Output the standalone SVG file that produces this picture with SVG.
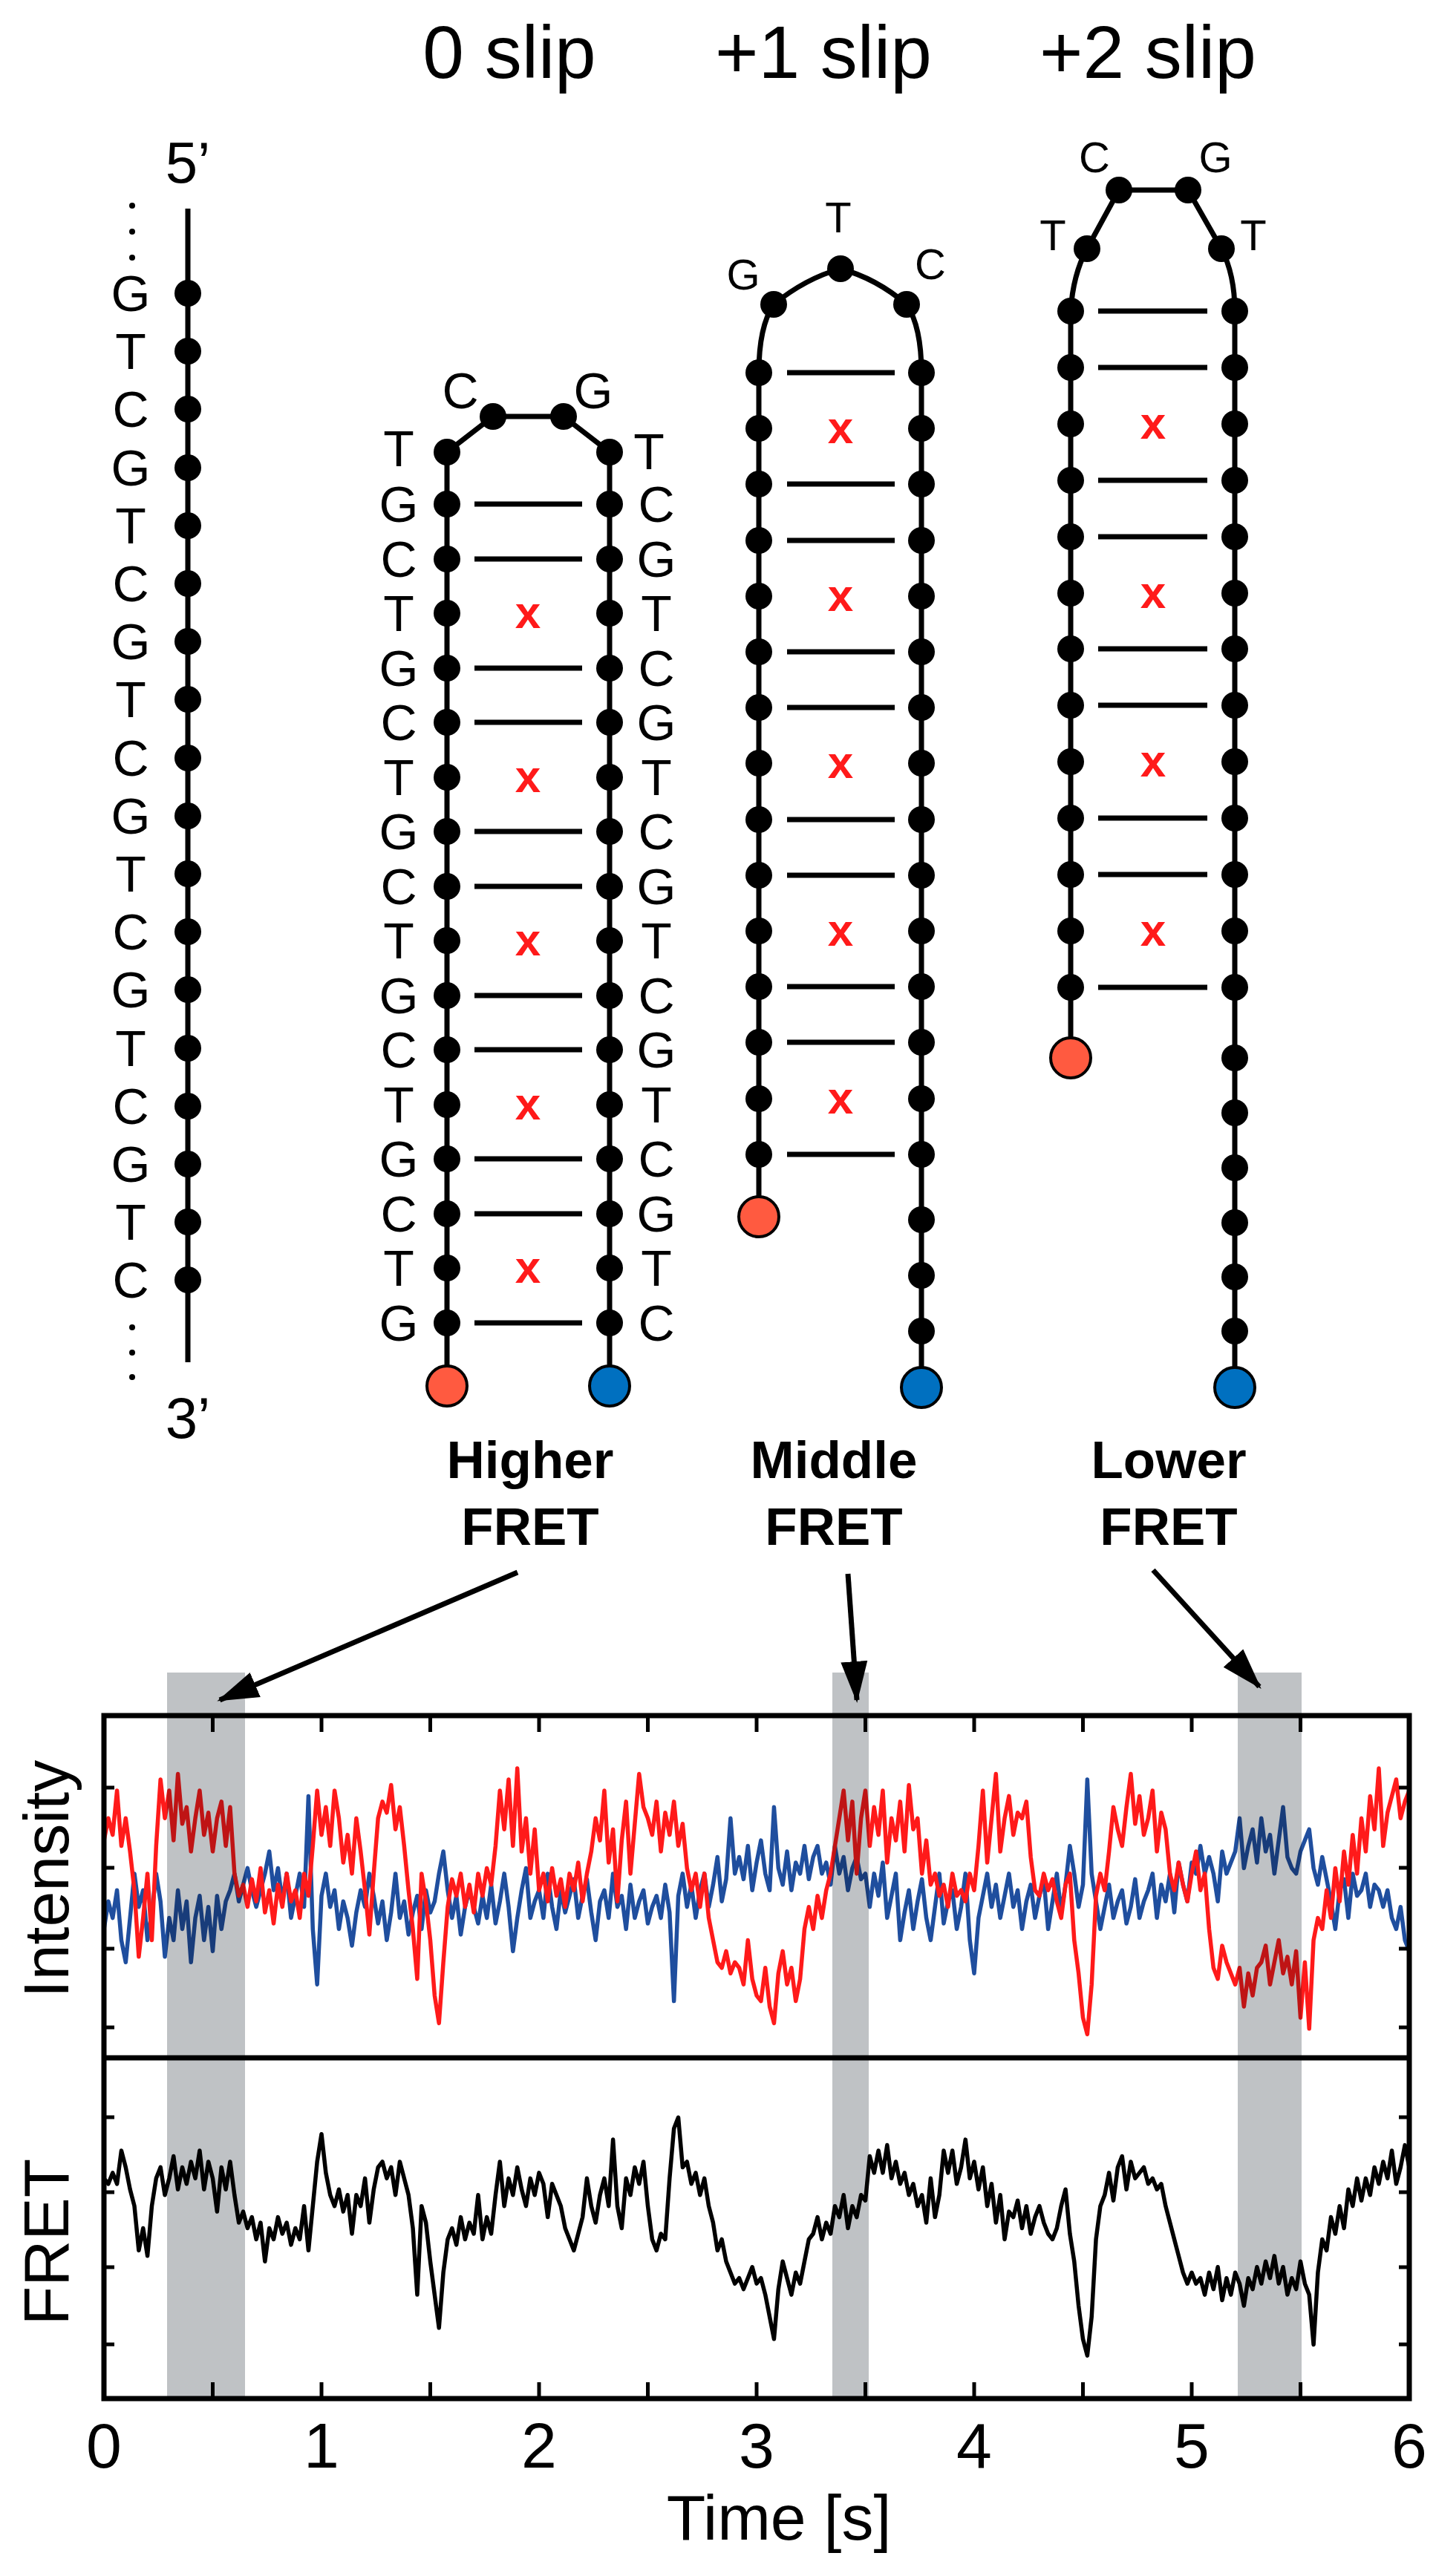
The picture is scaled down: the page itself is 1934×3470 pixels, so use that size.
<svg xmlns="http://www.w3.org/2000/svg" xmlns:xlink="http://www.w3.org/1999/xlink" width="1934" height="3470" viewBox="0 0 1934 3470">
<style>
text{font-family:"Liberation Sans",Arial,sans-serif;fill:#000}
.nt{font-size:68px;text-anchor:middle}
.hd{font-size:100px;text-anchor:middle}
.lb{font-size:71px;font-weight:bold;text-anchor:middle}
.ax{font-size:86px;text-anchor:middle}
.xx{font-size:62px;font-weight:bold;fill:#ff1a1a;text-anchor:middle}
.strand{fill:none;stroke:#000;stroke-width:7}
.pair{stroke:#000;stroke-width:7}
.bead{fill:#000}
.red{fill:#ff5a40;stroke:#000;stroke-width:4}
.blue{fill:#0070c0;stroke:#000;stroke-width:4}
.tr{fill:none;stroke-width:5.5;vector-effect:non-scaling-stroke;stroke-linejoin:round}
.box{fill:none;stroke:#000;stroke-width:7}
.tick{stroke:#000;stroke-width:5}
.band{fill:#bfc2c5;mix-blend-mode:multiply}
.arrow{stroke:#000;stroke-width:7;fill:none}
</style>
<defs>
<circle id="b" r="18" class="bead"/>
<marker id="ah" viewBox="0 0 14 10" refX="13" refY="5" markerWidth="8" markerHeight="6" markerUnits="strokeWidth" orient="auto"><path d="M0,0.5 L14,5 L0,9.5 Z" fill="#000"/></marker>
</defs>

<g id="titles">
<text class="hd" x="686" y="105">0 slip</text>
<text class="hd" x="1109" y="105">+1 slip</text>
<text class="hd" x="1546" y="105">+2 slip</text>
</g>

<g id="strand-linear">
<line class="strand" x1="253" y1="281" x2="253" y2="1835"/>
<text class="nt" x="253" y="246" style="font-size:78px">5’</text>
<text class="nt" x="253" y="1937" style="font-size:78px">3’</text>
<g fill="#000"><circle cx="178" cy="277" r="4"/><circle cx="178" cy="312" r="4"/><circle cx="178" cy="347" r="4"/><circle cx="178" cy="1788" r="4"/><circle cx="178" cy="1822" r="4"/><circle cx="178" cy="1855" r="4"/></g>
<g>
<use href="#b" x="253" y="395"/><use href="#b" x="253" y="473"/><use href="#b" x="253" y="551"/><use href="#b" x="253" y="630"/><use href="#b" x="253" y="708"/><use href="#b" x="253" y="786"/><use href="#b" x="253" y="864"/><use href="#b" x="253" y="942"/><use href="#b" x="253" y="1021"/><use href="#b" x="253" y="1099"/><use href="#b" x="253" y="1177"/><use href="#b" x="253" y="1255"/><use href="#b" x="253" y="1333"/><use href="#b" x="253" y="1412"/><use href="#b" x="253" y="1490"/><use href="#b" x="253" y="1568"/><use href="#b" x="253" y="1646"/><use href="#b" x="253" y="1724"/>
</g>
<g>
<text class="nt" x="176" y="419">G</text><text class="nt" x="176" y="497">T</text><text class="nt" x="176" y="575">C</text><text class="nt" x="176" y="654">G</text><text class="nt" x="176" y="732">T</text><text class="nt" x="176" y="810">C</text><text class="nt" x="176" y="888">G</text><text class="nt" x="176" y="966">T</text><text class="nt" x="176" y="1045">C</text><text class="nt" x="176" y="1123">G</text><text class="nt" x="176" y="1201">T</text><text class="nt" x="176" y="1279">C</text><text class="nt" x="176" y="1357">G</text><text class="nt" x="176" y="1436">T</text><text class="nt" x="176" y="1514">C</text><text class="nt" x="176" y="1592">G</text><text class="nt" x="176" y="1670">T</text><text class="nt" x="176" y="1748">C</text>
</g>
</g>

<g id="hairpin-0slip">
<path class="strand" d="M602,1867 L602,609 L664,561 L759,561 L821,609 L821,1867"/>
<g class="pair">
<line x1="639" y1="679" x2="784" y2="679"/><line x1="639" y1="753" x2="784" y2="753"/><line x1="639" y1="900" x2="784" y2="900"/><line x1="639" y1="973" x2="784" y2="973"/><line x1="639" y1="1120" x2="784" y2="1120"/><line x1="639" y1="1194" x2="784" y2="1194"/><line x1="639" y1="1341" x2="784" y2="1341"/><line x1="639" y1="1414" x2="784" y2="1414"/><line x1="639" y1="1561" x2="784" y2="1561"/><line x1="639" y1="1635" x2="784" y2="1635"/><line x1="639" y1="1782" x2="784" y2="1782"/>
</g>
<text class="xx" x="711" y="846">x</text><text class="xx" x="711" y="1067">x</text><text class="xx" x="711" y="1287">x</text><text class="xx" x="711" y="1508">x</text><text class="xx" x="711" y="1728">x</text>
<use href="#b" x="602" y="609"/><use href="#b" x="664" y="561"/><use href="#b" x="759" y="561"/><use href="#b" x="821" y="609"/>
<use href="#b" x="602" y="679"/><use href="#b" x="602" y="753"/><use href="#b" x="602" y="826"/><use href="#b" x="602" y="900"/><use href="#b" x="602" y="973"/><use href="#b" x="602" y="1047"/><use href="#b" x="602" y="1120"/><use href="#b" x="602" y="1194"/><use href="#b" x="602" y="1267"/><use href="#b" x="602" y="1341"/><use href="#b" x="602" y="1414"/><use href="#b" x="602" y="1488"/><use href="#b" x="602" y="1561"/><use href="#b" x="602" y="1635"/><use href="#b" x="602" y="1708"/><use href="#b" x="602" y="1782"/>
<use href="#b" x="821" y="679"/><use href="#b" x="821" y="753"/><use href="#b" x="821" y="826"/><use href="#b" x="821" y="900"/><use href="#b" x="821" y="973"/><use href="#b" x="821" y="1047"/><use href="#b" x="821" y="1120"/><use href="#b" x="821" y="1194"/><use href="#b" x="821" y="1267"/><use href="#b" x="821" y="1341"/><use href="#b" x="821" y="1414"/><use href="#b" x="821" y="1488"/><use href="#b" x="821" y="1561"/><use href="#b" x="821" y="1635"/><use href="#b" x="821" y="1708"/><use href="#b" x="821" y="1782"/>
<circle class="red" cx="602" cy="1867" r="27"/><circle class="blue" cx="821" cy="1867" r="27"/>
<text class="nt" x="537" y="628">T</text><text class="nt" x="620" y="550">C</text><text class="nt" x="799" y="550">G</text><text class="nt" x="874" y="632">T</text>
<text class="nt" x="537" y="703">G</text><text class="nt" x="537" y="777">C</text><text class="nt" x="537" y="850">T</text><text class="nt" x="537" y="924">G</text><text class="nt" x="537" y="997">C</text><text class="nt" x="537" y="1071">T</text><text class="nt" x="537" y="1144">G</text><text class="nt" x="537" y="1218">C</text><text class="nt" x="537" y="1291">T</text><text class="nt" x="537" y="1365">G</text><text class="nt" x="537" y="1438">C</text><text class="nt" x="537" y="1512">T</text><text class="nt" x="537" y="1585">G</text><text class="nt" x="537" y="1659">C</text><text class="nt" x="537" y="1732">T</text><text class="nt" x="537" y="1806">G</text>
<text class="nt" x="884" y="703">C</text><text class="nt" x="884" y="777">G</text><text class="nt" x="884" y="850">T</text><text class="nt" x="884" y="924">C</text><text class="nt" x="884" y="997">G</text><text class="nt" x="884" y="1071">T</text><text class="nt" x="884" y="1144">C</text><text class="nt" x="884" y="1218">G</text><text class="nt" x="884" y="1291">T</text><text class="nt" x="884" y="1365">C</text><text class="nt" x="884" y="1438">G</text><text class="nt" x="884" y="1512">T</text><text class="nt" x="884" y="1585">C</text><text class="nt" x="884" y="1659">G</text><text class="nt" x="884" y="1732">T</text><text class="nt" x="884" y="1806">C</text>
<text class="lb" x="714" y="1991">Higher</text><text class="lb" x="714" y="2081">FRET</text>
</g>

<g id="hairpin-1slip">
<path class="strand" d="M1022,1639 L1022,502 Q1022,440 1042,410 Q1085,375 1132,362 Q1180,375 1221,410 Q1241,440 1241,502 L1241,1869"/>
<g class="pair">
<line x1="1060" y1="502" x2="1205" y2="502"/><line x1="1060" y1="652" x2="1205" y2="652"/><line x1="1060" y1="728" x2="1205" y2="728"/><line x1="1060" y1="878" x2="1205" y2="878"/><line x1="1060" y1="953" x2="1205" y2="953"/><line x1="1060" y1="1104" x2="1205" y2="1104"/><line x1="1060" y1="1179" x2="1205" y2="1179"/><line x1="1060" y1="1329" x2="1205" y2="1329"/><line x1="1060" y1="1404" x2="1205" y2="1404"/><line x1="1060" y1="1555" x2="1205" y2="1555"/>
</g>
<text class="xx" x="1132" y="597">x</text><text class="xx" x="1132" y="823">x</text><text class="xx" x="1132" y="1048">x</text><text class="xx" x="1132" y="1274">x</text><text class="xx" x="1132" y="1500">x</text>
<use href="#b" x="1042" y="410"/><use href="#b" x="1132" y="362"/><use href="#b" x="1221" y="410"/>
<use href="#b" x="1022" y="502"/><use href="#b" x="1022" y="577"/><use href="#b" x="1022" y="652"/><use href="#b" x="1022" y="728"/><use href="#b" x="1022" y="803"/><use href="#b" x="1022" y="878"/><use href="#b" x="1022" y="953"/><use href="#b" x="1022" y="1028"/><use href="#b" x="1022" y="1104"/><use href="#b" x="1022" y="1179"/><use href="#b" x="1022" y="1254"/><use href="#b" x="1022" y="1329"/><use href="#b" x="1022" y="1404"/><use href="#b" x="1022" y="1480"/><use href="#b" x="1022" y="1555"/>
<use href="#b" x="1241" y="502"/><use href="#b" x="1241" y="577"/><use href="#b" x="1241" y="652"/><use href="#b" x="1241" y="728"/><use href="#b" x="1241" y="803"/><use href="#b" x="1241" y="878"/><use href="#b" x="1241" y="953"/><use href="#b" x="1241" y="1028"/><use href="#b" x="1241" y="1104"/><use href="#b" x="1241" y="1179"/><use href="#b" x="1241" y="1254"/><use href="#b" x="1241" y="1329"/><use href="#b" x="1241" y="1404"/><use href="#b" x="1241" y="1480"/><use href="#b" x="1241" y="1555"/><use href="#b" x="1241" y="1643"/><use href="#b" x="1241" y="1718"/><use href="#b" x="1241" y="1793"/>
<circle class="red" cx="1022" cy="1639" r="27"/><circle class="blue" cx="1241" cy="1869" r="27"/>
<text class="nt" x="1001" y="390" style="font-size:58px">G</text><text class="nt" x="1129" y="313" style="font-size:58px">T</text><text class="nt" x="1253" y="376" style="font-size:58px">C</text>
<text class="lb" x="1123" y="1991">Middle</text><text class="lb" x="1123" y="2081">FRET</text>
</g>

<g id="hairpin-2slip">
<path class="strand" d="M1442,1425 L1442,419 Q1445,370 1464,335 L1507,256 L1600,256 L1645,335 Q1663,370 1663,419 L1663,1869"/>
<g class="pair">
<line x1="1479" y1="419" x2="1626" y2="419"/><line x1="1479" y1="495" x2="1626" y2="495"/><line x1="1479" y1="647" x2="1626" y2="647"/><line x1="1479" y1="723" x2="1626" y2="723"/><line x1="1479" y1="874" x2="1626" y2="874"/><line x1="1479" y1="950" x2="1626" y2="950"/><line x1="1479" y1="1102" x2="1626" y2="1102"/><line x1="1479" y1="1178" x2="1626" y2="1178"/><line x1="1479" y1="1330" x2="1626" y2="1330"/>
</g>
<text class="xx" x="1553" y="591">x</text><text class="xx" x="1553" y="819">x</text><text class="xx" x="1553" y="1046">x</text><text class="xx" x="1553" y="1274">x</text>
<use href="#b" x="1464" y="335"/><use href="#b" x="1507" y="256"/><use href="#b" x="1600" y="256"/><use href="#b" x="1645" y="335"/>
<use href="#b" x="1442" y="419"/><use href="#b" x="1442" y="495"/><use href="#b" x="1442" y="571"/><use href="#b" x="1442" y="647"/><use href="#b" x="1442" y="723"/><use href="#b" x="1442" y="799"/><use href="#b" x="1442" y="874"/><use href="#b" x="1442" y="950"/><use href="#b" x="1442" y="1026"/><use href="#b" x="1442" y="1102"/><use href="#b" x="1442" y="1178"/><use href="#b" x="1442" y="1254"/><use href="#b" x="1442" y="1330"/>
<use href="#b" x="1663" y="419"/><use href="#b" x="1663" y="495"/><use href="#b" x="1663" y="571"/><use href="#b" x="1663" y="647"/><use href="#b" x="1663" y="723"/><use href="#b" x="1663" y="799"/><use href="#b" x="1663" y="874"/><use href="#b" x="1663" y="950"/><use href="#b" x="1663" y="1026"/><use href="#b" x="1663" y="1102"/><use href="#b" x="1663" y="1178"/><use href="#b" x="1663" y="1254"/><use href="#b" x="1663" y="1330"/><use href="#b" x="1663" y="1425"/><use href="#b" x="1663" y="1499"/><use href="#b" x="1663" y="1573"/><use href="#b" x="1663" y="1647"/><use href="#b" x="1663" y="1720"/><use href="#b" x="1663" y="1793"/>
<circle class="red" cx="1442" cy="1425" r="27"/><circle class="blue" cx="1663" cy="1869" r="27"/>
<text class="nt" x="1418" y="337" style="font-size:58px">T</text><text class="nt" x="1474" y="232" style="font-size:58px">C</text><text class="nt" x="1637" y="232" style="font-size:58px">G</text><text class="nt" x="1688" y="337" style="font-size:58px">T</text>
<text class="lb" x="1574" y="1991">Lower</text><text class="lb" x="1574" y="2081">FRET</text>
</g>

<g id="plot" style="isolation:isolate">
<rect x="140" y="2311" width="1758" height="920" fill="#fff"/>
<g transform="translate(140,2300) scale(2.93,0.7463)">
<polyline class="tr" stroke="#1f4e9e" points="0,400 2,350 4,380 6,330 8,420 10,460 12,380 14,300 16,360 18,330 20,420 22,370 24,300 26,350 28,450 30,380 32,420 34,330 36,400 38,350 40,460 42,380 44,340 46,420 48,360 50,440 52,340 54,400 56,350 58,330 60,300 62,350 64,320 66,290 68,330 70,360 72,330 74,300 76,260 78,330 80,290 82,350 84,300 86,380 88,340 90,300 92,360 94,160 96,400 98,500 100,340 102,300 104,360 106,330 108,400 110,350 112,380 114,430 116,370 118,330 120,360 122,300 124,340 126,390 128,350 130,420 132,370 134,300 136,380 138,350 140,410 142,370 144,340 146,400 148,330 150,370 152,350 154,300 156,260 158,330 160,380 162,340 164,410 166,360 168,330 170,360 172,390 174,340 176,380 178,320 180,390 182,350 184,300 186,360 188,440 190,380 192,330 194,290 196,380 198,350 200,330 202,380 204,300 206,360 208,400 210,330 212,370 214,340 216,310 218,380 220,340 222,310 224,370 226,420 228,350 230,330 232,380 234,300 236,360 238,340 240,400 242,320 244,380 246,350 248,330 250,390 252,360 254,340 256,380 258,320 260,370 262,530 264,340 266,300 268,360 270,320 272,380 274,330 276,300 278,360 280,320 282,270 284,350 286,310 288,200 290,300 292,270 294,310 296,250 298,330 300,280 302,240 304,300 306,330 308,180 310,290 312,320 314,260 316,330 318,280 320,300 322,250 324,310 326,270 328,250 330,300 332,280 334,320 336,250 338,300 340,270 342,330 344,290 346,270 348,310 350,300 352,360 354,300 356,340 358,280 360,380 362,340 364,300 366,420 368,370 370,330 372,400 374,350 376,310 378,380 380,420 382,360 384,300 386,390 388,350 390,330 392,400 394,360 396,300 398,420 400,480 402,380 404,340 406,300 408,360 410,320 412,380 414,340 416,300 418,360 420,330 422,400 424,350 426,320 428,380 430,340 432,310 434,400 436,350 438,300 440,370 442,320 444,250 446,300 448,360 450,320 452,130 454,300 456,350 458,400 460,360 462,320 464,380 466,350 468,330 470,390 472,360 474,310 476,380 478,350 480,330 482,300 484,380 486,320 488,350 490,300 492,370 494,280 496,320 498,350 500,280 502,300 504,250 506,300 508,270 510,300 512,350 514,260 516,300 518,280 520,260 522,200 524,290 526,250 528,220 530,280 532,200 534,260 536,230 538,300 540,240 542,180 544,270 546,290 548,300 550,260 552,240 554,220 556,290 558,320 560,270 562,310 564,350 566,400 568,330 570,310 572,380 574,300 576,340 578,330 580,300 582,360 584,320 586,330 588,360 590,330 592,380 594,400 596,360 598,420 600,440"/>
<polyline class="tr" stroke="#ff1a1a" points="0,240 2,200 4,230 6,150 8,250 10,200 12,260 14,330 16,450 18,380 20,300 22,420 24,250 26,130 28,200 30,150 32,240 34,120 36,210 38,180 40,260 42,200 44,150 46,230 48,190 50,260 52,200 54,170 56,250 58,180 60,300 62,340 64,320 66,360 68,310 70,350 72,290 74,370 76,330 78,390 80,320 82,360 84,300 86,350 88,330 90,380 92,300 94,340 96,250 98,150 100,230 102,180 104,250 106,150 108,200 110,280 112,230 114,300 116,200 118,260 120,330 122,410 124,300 126,200 128,170 130,190 132,140 134,220 136,180 138,250 140,330 142,400 144,490 146,300 148,350 150,420 152,520 154,570 156,460 158,360 160,310 162,340 164,300 166,360 168,320 170,370 172,300 174,340 176,290 178,320 180,250 182,150 184,220 186,130 188,250 190,110 192,260 194,200 196,300 198,220 200,330 202,300 204,350 206,290 208,340 210,310 212,360 214,300 216,330 218,280 220,350 222,300 224,260 226,200 228,240 230,150 232,280 234,220 236,350 238,240 240,170 242,300 244,210 246,120 248,180 250,200 252,230 254,170 256,260 258,190 260,230 262,170 264,250 266,210 268,290 270,330 272,300 274,360 276,300 278,380 280,420 282,460 284,470 286,440 288,480 290,460 292,470 294,500 296,420 298,490 300,520 302,530 304,470 306,540 308,570 310,480 312,440 314,500 316,470 318,530 320,490 322,400 324,360 326,400 328,340 330,380 332,330 334,300 336,250 338,200 340,150 342,240 344,170 346,300 348,200 350,150 352,250 354,180 356,230 358,150 360,280 362,200 364,240 366,170 368,260 370,140 372,220 374,200 376,300 378,240 380,320 382,300 384,340 386,320 388,360 390,300 392,340 394,330 396,350 398,300 400,330 402,250 404,150 406,280 408,200 410,120 412,260 414,200 416,160 418,230 420,190 422,200 424,170 426,270 428,330 430,340 432,300 434,330 436,310 438,350 440,380 442,320 444,300 446,420 448,480 450,560 452,590 454,500 456,340 458,300 460,330 462,260 464,180 466,220 468,250 470,180 472,120 474,210 476,160 478,230 480,200 482,150 484,260 486,190 488,220 490,300 492,330 494,280 496,320 498,350 500,300 502,260 504,330 506,300 508,400 510,470 512,490 514,430 516,460 518,480 520,500 522,470 524,540 526,480 528,520 530,470 532,460 534,430 536,500 538,460 540,420 542,480 544,450 546,500 548,440 550,560 552,460 554,580 556,420 558,380 560,400 562,330 564,380 566,290 568,350 570,260 572,320 574,230 576,300 578,200 580,260 582,160 584,220 586,110 588,250 590,190 592,160 594,130 596,200 598,170 600,150"/>
<polyline class="tr" stroke="#000" points="0,850 2,860 4,840 6,860 8,800 10,830 12,870 14,900 16,980 18,940 20,990 22,900 24,850 26,830 28,880 30,850 32,810 34,870 36,830 38,860 40,820 42,850 44,800 46,870 48,820 50,850 52,910 54,830 56,870 58,820 60,880 62,930 64,910 66,940 68,920 70,960 72,930 74,1000 76,940 78,960 80,920 82,950 84,930 86,970 88,940 90,960 92,900 94,980 96,900 98,820 100,770 102,840 104,880 106,900 108,870 110,910 112,880 114,950 116,880 118,900 120,850 122,930 124,870 126,830 128,820 130,850 132,830 134,880 136,820 138,850 140,880 142,940 144,1060 146,900 148,930 150,1000 152,1060 154,1120 156,1020 158,960 160,940 162,970 164,920 166,960 168,930 170,950 172,880 174,960 176,920 178,950 180,880 182,820 184,900 186,850 188,880 190,830 192,870 194,900 196,850 198,880 200,840 202,860 204,920 206,860 208,880 210,900 212,940 214,960 216,980 218,950 220,920 222,850 224,900 226,930 228,880 230,850 232,900 234,780 236,900 238,940 240,850 242,880 244,830 246,860 248,820 250,900 252,960 254,980 256,950 258,960 260,850 262,760 264,740 266,830 268,820 270,860 272,840 274,880 276,850 278,900 280,930 282,980 284,960 286,1000 288,1020 290,1040 292,1030 294,1050 296,1030 298,1010 300,1040 302,1030 304,1060 306,1100 308,1140 310,1050 312,1000 314,1030 316,1060 318,1020 320,1040 322,1000 324,960 326,950 328,920 330,960 332,930 334,950 336,900 338,920 340,880 342,940 344,900 346,920 348,880 350,890 352,810 354,840 356,800 358,840 360,790 362,850 364,820 366,860 368,840 370,880 372,860 374,900 376,880 378,930 380,850 382,920 384,880 386,800 388,840 390,800 392,860 394,830 396,780 398,850 400,820 402,870 404,830 406,900 408,860 410,930 412,880 414,960 416,910 418,920 420,890 422,940 424,900 426,950 428,920 430,900 432,930 434,950 436,960 438,940 440,900 442,870 444,950 446,1000 448,1080 450,1140 452,1170 454,1100 456,960 458,900 460,880 462,840 464,890 466,830 468,810 470,870 472,820 474,850 476,840 478,830 480,860 482,850 484,870 486,860 488,900 490,930 492,960 494,990 496,1020 498,1040 500,1020 502,1040 504,1030 506,1060 508,1020 510,1050 512,1010 514,1070 516,1030 518,1060 520,1020 522,1040 524,1080 526,1030 528,1050 530,1010 532,1040 534,1000 536,1030 538,990 540,1040 542,1010 544,1060 546,1030 548,1050 550,1000 552,1040 554,1060 556,1150 558,1020 560,960 562,980 564,920 566,950 568,900 570,940 572,870 574,900 576,850 578,890 580,850 582,880 584,830 586,860 588,820 590,850 592,800 594,860 596,830 598,790 600,830"/>
</g>
<rect class="band" x="225" y="2253" width="105" height="978"/>
<rect class="band" x="1121" y="2253" width="49" height="978"/>
<rect class="band" x="1667" y="2253" width="86" height="978"/>
<rect class="box" x="140" y="2311" width="1758" height="920"/>
<line class="box" x1="140" y1="2772" x2="1898" y2="2772"/>
<path class="tick" d="M286.5,2311v22 M433,2311v22 M579.5,2311v22 M726,2311v22 M872.5,2311v22 M1019,2311v22 M1165.5,2311v22 M1312,2311v22 M1458.5,2311v22 M1605,2311v22 M1751.5,2311v22
M286.5,3231v-22 M433,3231v-22 M579.5,3231v-22 M726,3231v-22 M872.5,3231v-22 M1019,3231v-22 M1165.5,3231v-22 M1312,3231v-22 M1458.5,3231v-22 M1605,3231v-22 M1751.5,3231v-22
M140,2408h14 M140,2516h14 M140,2625h14 M140,2731h14 M1898,2408h-14 M1898,2516h-14 M1898,2625h-14 M1898,2731h-14
M140,2852h14 M140,2953h14 M140,3054h14 M140,3158h14 M1898,2852h-14 M1898,2953h-14 M1898,3054h-14 M1898,3158h-14"/>
</g>

<g id="connectors">
<line class="arrow" x1="697" y1="2118" x2="296" y2="2290" marker-end="url(#ah)"/>
<line class="arrow" x1="1142" y1="2120" x2="1154" y2="2290" marker-end="url(#ah)"/>
<line class="arrow" x1="1553" y1="2115" x2="1696" y2="2272" marker-end="url(#ah)"/>
</g>

<g id="axis-labels">
<text class="ax" x="140" y="3324">0</text><text class="ax" x="433" y="3324">1</text><text class="ax" x="726" y="3324">2</text><text class="ax" x="1019" y="3324">3</text><text class="ax" x="1312" y="3324">4</text><text class="ax" x="1605" y="3324">5</text><text class="ax" x="1898" y="3324">6</text>
<text class="ax" x="1049" y="3421">Time [s]</text>
<text class="ax" x="92" y="2531" transform="rotate(-90 92 2531)">Intensity</text>
<text class="ax" x="92" y="3020" transform="rotate(-90 92 3020)">FRET</text>
</g>
</svg>
